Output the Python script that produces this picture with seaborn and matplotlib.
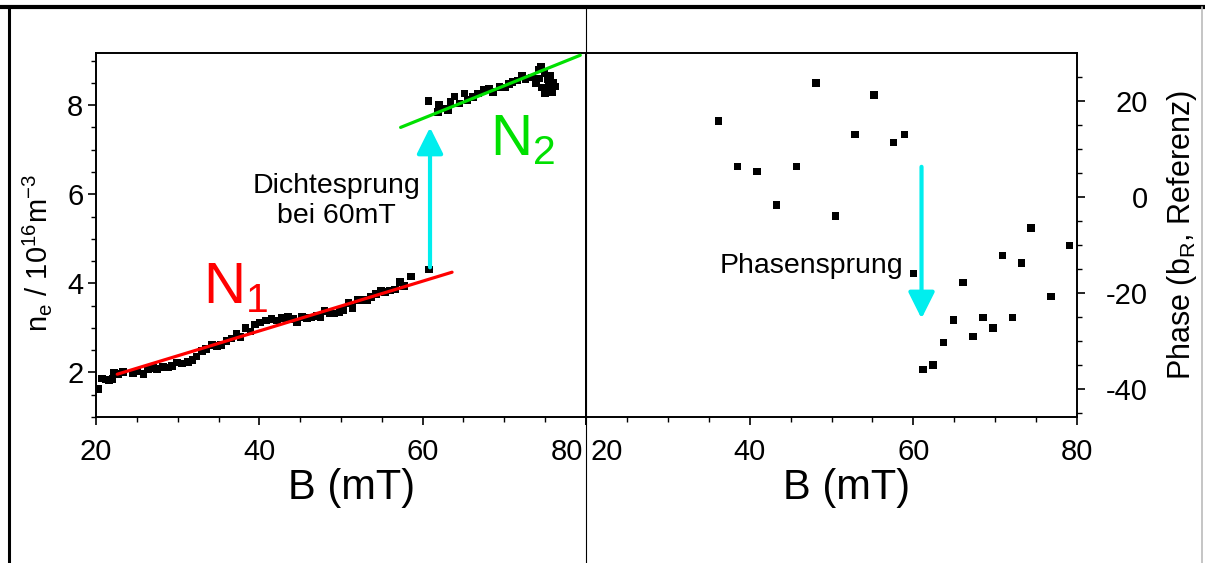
import numpy as np
import pandas as pd
import seaborn as sns
import matplotlib.pyplot as plt
import matplotlib.transforms as mtransforms
from matplotlib.lines import Line2D

# left panel: electron density vs B (N1 branch below the jump, N2 above)
b_n1 = [20.3, 20.7, 21.2, 21.6, 22.0, 22.2, 22.7, 23.3, 24.5, 25.0, 25.8, 26.4, 27.0, 27.5,
        28.2, 28.8, 29.3, 29.9, 30.5, 31.3, 31.8, 32.3, 33.0, 33.5, 34.2, 34.8, 35.3, 36.0,
        36.6, 37.2, 37.7, 38.3, 38.9, 39.5, 40.1, 40.8, 41.5, 42.2, 42.8, 43.5, 44.1, 44.6,
        45.2, 45.8, 46.4, 47.0, 47.5, 48.0, 48.6, 49.2, 49.8, 50.3, 50.9, 51.4, 52.0, 52.6,
        53.2, 53.7, 54.3, 54.9, 55.4, 56.0, 56.6, 57.2, 57.7, 58.6, 60.8]
ne_n1 = [1.63, 1.86, 1.84, 1.82, 1.85, 1.99, 1.97, 2.01, 1.98, 2.02, 1.96, 2.07, 2.10, 2.08,
         2.12, 2.11, 2.14, 2.22, 2.20, 2.24, 2.28, 2.36, 2.48, 2.52, 2.62, 2.60, 2.62, 2.70,
         2.76, 2.86, 2.80, 3.00, 2.92, 3.08, 3.12, 3.17, 3.20, 3.17, 3.22, 3.25, 3.20, 3.13,
         3.24, 3.22, 3.23, 3.27, 3.25, 3.38, 3.33, 3.32, 3.36, 3.40, 3.56, 3.45, 3.63, 3.62,
         3.62, 3.70, 3.76, 3.84, 3.80, 3.84, 3.86, 4.03, 3.94, 4.15, 4.31]
b_n2 = [60.7, 61.9, 62.0, 62.6, 63.1, 63.4, 63.9, 64.5, 65.1, 65.5, 66.2, 66.8, 67.5, 68.1,
        68.6, 69.4, 70.1, 70.6, 71.0, 71.6, 72.2, 72.6, 73.4, 73.9, 74.2, 74.5, 74.6, 74.9,
        75.1, 75.3, 75.6, 75.8, 76.0, 76.2, 75.5, 74.3, 75.0]
ne_n2 = [8.09, 7.85, 8.00, 7.92, 7.89, 8.07, 8.19, 8.04, 8.26, 8.11, 8.18, 8.26, 8.34, 8.37,
         8.30, 8.41, 8.40, 8.47, 8.52, 8.55, 8.66, 8.58, 8.62, 8.49, 8.80, 8.86, 8.40, 8.72,
         8.33, 8.58, 8.66, 8.30, 8.50, 8.42, 8.45, 8.60, 8.26]

# linear fits drawn in the original
fit1_b = [22.6, 63.6]
fit1_ne = [1.96, 4.25]
fit2_b = [57.3, 79.3]
fit2_ne = [7.50, 9.12]

# right panel: phase vs B
b_phase = [36.2, 38.5, 40.9, 43.3, 45.7, 48.1, 50.5, 52.9, 55.2, 57.6, 58.9, 60.0, 61.2,
           62.4, 63.7, 64.9, 66.1, 67.3, 68.5, 69.7, 70.9, 72.1, 73.2, 74.4, 76.8, 79.1]
phase = [15.9, 6.4, 5.3, -1.6, 6.4, 23.8, -3.9, 13.0, 21.2, 11.4, 13.0, -15.9, -35.9,
         -35.0, -30.3, -25.6, -17.8, -29.0, -25.1, -27.3, -12.2, -25.1, -13.7, -6.5, -20.7, -10.1]

# jump arrows (B, start value, end value)
jump_ne = (60.9, 4.36, 7.50)
jump_phase = (61.0, 6.3, -25.3)

df_n = pd.DataFrame({'B': b_n1 + b_n2, 'ne': ne_n1 + ne_n2})
df_p = pd.DataFrame({'B': b_phase, 'phase': phase})

sns.set_theme(style='ticks')
plt.rcParams['font.family'] = ['Liberation Sans', 'DejaVu Sans']
plt.rcParams['mathtext.fontset'] = 'custom'
plt.rcParams['mathtext.rm'] = 'Liberation Sans'
plt.rcParams['axes.unicode_minus'] = False
plt.rcParams['axes.edgecolor'] = 'black'
plt.rcParams['xtick.color'] = 'black'
plt.rcParams['ytick.color'] = 'black'
plt.rcParams['text.color'] = 'black'
plt.rcParams['axes.labelcolor'] = 'black'

fig = plt.figure(figsize=(12.05, 5.63), dpi=100)
ax1 = fig.add_axes([96 / 1205, 146 / 563, 490 / 1205, 364 / 563])
ax2 = fig.add_axes([586 / 1205, 146 / 563, 491 / 1205, 364 / 563])

red = '#ff0000'
green = '#00e000'
cyan = '#00eeee'

# left panel
sns.scatterplot(data=df_n, x='B', y='ne', ax=ax1, marker='s', s=30, color='black',
                edgecolor='none', zorder=3)
sns.lineplot(x=fit1_b, y=fit1_ne, ax=ax1, color=red, lw=2.3, zorder=4)
sns.lineplot(x=fit2_b, y=fit2_ne, ax=ax1, color=green, lw=2.3, zorder=4, clip_on=False)
ax1.annotate('', xy=(jump_ne[0], jump_ne[2]), xytext=(jump_ne[0], jump_ne[1]),
             arrowprops=dict(arrowstyle='-|>,head_length=0.8,head_width=0.4', mutation_scale=20,
                             lw=3, color=cyan, shrinkA=0, shrinkB=0))
ax1.text(49.4, 5.84, 'Dichtesprung\nbei 60mT', ha='center', va='center',
         multialignment='center', fontsize=20.5)
ax1.text(33.1, 3.55, r'N$_\mathregular{1}$', color=red, fontsize=42, ha='left', va='baseline')
ax1.text(68.2, 6.88, r'N$_\mathregular{2}$', color=green, fontsize=42, ha='left', va='baseline')

ax1.set_xlim(20, 80)
ax1.set_ylim(1, 9.17)
ax1.set_xticks([20, 40, 60, 80])
ax1.set_xticks(np.arange(20, 81, 5), minor=True)
ax1.set_yticks([2, 4, 6, 8])
ax1.set_yticks(np.arange(1, 9.1, 0.5), minor=True)
ax1.set_xlabel('B (mT)', fontsize=30)
ax1.set_ylabel(r'n$_\mathregular{e}$ / 10$^\mathregular{16}$m$^\mathregular{-3}$', fontsize=21)
ax1.yaxis.set_label_coords(-0.085, 0.45)
ax1.xaxis.set_label_coords(0.522, -0.14)

# right panel
sns.scatterplot(data=df_p, x='B', y='phase', ax=ax2, marker='s', s=30, color='black',
                edgecolor='none', zorder=3)
ax2.annotate('', xy=(jump_phase[0], jump_phase[2]), xytext=(jump_phase[0], jump_phase[1]),
             arrowprops=dict(arrowstyle='-|>,head_length=0.8,head_width=0.4', mutation_scale=20,
                             lw=3, color=cyan, shrinkA=0, shrinkB=0))
ax2.text(47.6, -15.8, 'Phasensprung', ha='center', va='baseline', fontsize=20.5)

ax2.set_xlim(20, 80)
ax2.set_ylim(-45.8, 30)
ax2.set_xticks([20, 40, 60, 80])
ax2.set_xticks(np.arange(20, 81, 5), minor=True)
ax2.set_yticks([-40, -20, 0, 20])
ax2.set_yticks(np.arange(-45, 30, 5), minor=True)
ax2.yaxis.tick_right()
ax2.yaxis.set_label_position('right')
ax2.set_xlabel('B (mT)', fontsize=30)
ax2.set_ylabel(r'Phase (b$_\mathregular{R}$, Referenz)', fontsize=22)
ax2.yaxis.set_label_coords(1.18, 0.5)
ax2.xaxis.set_label_coords(0.53, -0.14)

for ax in (ax1, ax2):
    for sp in ax.spines.values():
        sp.set_visible(True)
        sp.set_linewidth(1.4)
        sp.set_color('black')
    ax.tick_params(which='major', direction='out', length=6, width=1.2, labelsize=21)
    ax.tick_params(which='minor', direction='out', length=3.5, width=1.0)
    ax.tick_params(axis='x', which='major', pad=9)
    ax.grid(False)

ax1.tick_params(axis='y', which='major', pad=3)
ax2.tick_params(axis='y', which='both', left=False, right=True)
ax2.tick_params(axis='y', which='major', pad=45)
for lbl in ax2.get_yticklabels():
    lbl.set_horizontalalignment('right')

# the 80 | 20 labels meet at the shared edge: push them apart
xl1 = ax1.get_xticklabels()
xl1[-1].set_horizontalalignment('right')
xl1[-1].set_transform(xl1[-1].get_transform() + mtransforms.ScaledTranslation(-3 / 100, 0, fig.dpi_scale_trans))
xl2 = ax2.get_xticklabels()
xl2[0].set_horizontalalignment('left')
xl2[0].set_transform(xl2[0].get_transform() + mtransforms.ScaledTranslation(4 / 100, 0, fig.dpi_scale_trans))

# outer frame and divider
fig.add_artist(Line2D([0, 1], [1 - 7 / 563, 1 - 7 / 563], color='black', lw=3))
fig.add_artist(Line2D([8.5 / 1205, 8.5 / 1205], [0, 1 - 7 / 563], color='black', lw=2.2))
fig.add_artist(Line2D([1202 / 1205, 1202 / 1205], [0, 1 - 7 / 563], color='#bbbbbb', lw=1.2))
fig.add_artist(Line2D([586 / 1205, 586 / 1205], [0, 1 - 7 / 563], color='black', lw=0.8))

fig.savefig('out.png', dpi=100)
